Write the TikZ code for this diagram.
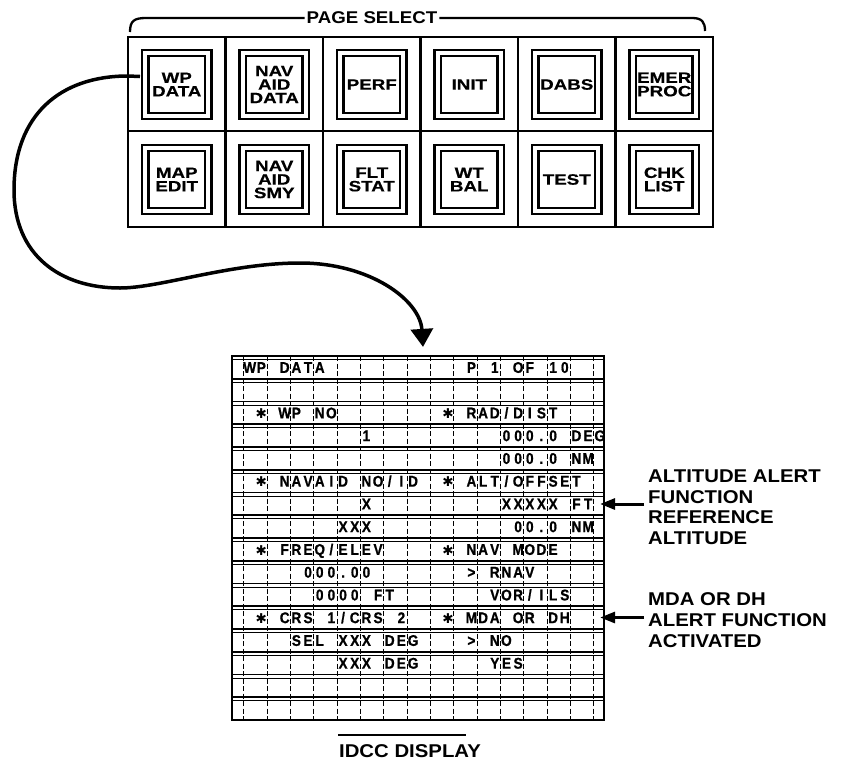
\documentclass[tikz,border=0pt]{standalone}
\usepackage{fontspec}
\usetikzlibrary{arrows.meta,calc}
\newfontfamily\lblfont{Liberation Sans Bold}[FakeStretch=1.1]
\newfontfamily\btnfont{Liberation Sans Bold}[FakeStretch=1.25,FakeBold=0.4]
\newfontfamily\dspfont{Liberation Sans Bold}[FakeStretch=0.88,FakeBold=0.8]
\newfontfamily\starfont{DejaVu Sans}
\newlength\slotw \setlength\slotw{11.67pt}
\ExplSyntaxOn
\NewDocumentCommand\slots{m}
  {
    \str_map_inline:nn {#1}
      {
        \makebox[\slotw][c]
          {
            \str_if_eq:nnTF {##1}{*}
              { \raisebox{-0.3pt}{\starfont\fontsize{13.5}{14}\selectfont ✱} }
              { ##1 }
          }
      }
  }
\ExplSyntaxOff
\newcommand\drow[4]{\node[dtx] (#1) at ({232+11.67*#3},{356+22.75*(#2-0.5)+5.5}) {\slots{#4}};}
\newcommand\btn[4]{\node[btnst] (#1) at ({128+97.5*(#2+0.5)},{37+95*(#3+0.5)}) {#4};}
\begin{document}
\begin{tikzpicture}[x=1pt,y=-1pt,
  panelbox/.style={draw,line width=2.6pt,inner sep=0pt},
  divider/.style={line width=2.2pt},
  bracket/.style={line width=2.3pt},
  btnst/.style={draw,line width=2.5pt,double,double distance=3.6pt,minimum width=63pt,minimum height=63pt,inner sep=0pt,align=center,font={\btnfont\fontsize{15}{13.5}\selectfont}},
  lbl/.style={inner sep=0pt,align=left,font={\lblfont\fontsize{18.5}{20.75}\selectfont}},
  dispbox/.style={draw,line width=2.2pt,inner sep=0pt},
  hthick/.style={line width=1.9pt},
  hthin/.style={line width=0.6pt},
  vdash/.style={line width=0.8pt,dash pattern=on 5pt off 2.5pt},
  dtx/.style={anchor=base west,inner sep=0pt,font={\dspfont\fontsize{15.5}{16}\selectfont}},
  bigarrow/.style={line width=3.5pt,-{Triangle[width=22pt,length=18pt]}},
  smarrow/.style={line width=3pt,-{Triangle[width=11pt,length=15pt]}}
]
\fill[white] (0,0) rectangle (848,763);
\useasboundingbox (0,0) rectangle (848,763);

% ---------- page select panel ----------
\node[panelbox,minimum width=585pt,minimum height=190pt] (panel) at (420.5,132) {};
\foreach \i in {1,...,5} {\draw[divider] ({128+97.5*\i},37) -- ({128+97.5*\i},227);}
\draw[divider] (128,131) -- (713,131);

\node[lbl,font={\lblfont\fontsize{17}{19}\selectfont},inner sep=2pt] (ps) at (372,18) {PAGE SELECT};
\draw[bracket] (130,32) .. controls (130,21) and (134,18) .. (146,18) -- (ps.west);
\draw[bracket] (ps.east) -- (692,18) .. controls (702,18) and (705,22) .. (705,31);

\btn{b11}{0}{0}{WP\\DATA}
\btn{b12}{1}{0}{NAV\\AID\\DATA}
\btn{b13}{2}{0}{PERF}
\btn{b14}{3}{0}{INIT}
\btn{b15}{4}{0}{DABS}
\btn{b16}{5}{0}{EMER\\PROC}
\btn{b21}{0}{1}{MAP\\EDIT}
\btn{b22}{1}{1}{NAV\\AID\\SMY}
\btn{b23}{2}{1}{FLT\\STAT}
\btn{b24}{3}{1}{WT\\BAL}
\btn{b25}{4}{1}{TEST}
\btn{b26}{5}{1}{CHK\\LIST}

% ---------- IDCC display ----------
\node[dispbox,minimum width=372pt,minimum height=364pt] (disp) at (418,538) {};
\foreach \k in {1,...,15} {\draw[hthick] (232,{356+22.75*\k}) -- (604,{356+22.75*\k});}
\foreach \k in {0,...,15} {\draw[hthin] (232,{359.5+22.75*\k}) -- (604,{359.5+22.75*\k});}
\foreach \k in {0,...,15} {\draw[vdash] ({243.67+23.34*\k},356) -- ({243.67+23.34*\k},720);}

\drow{t1a}{1}{1}{WP DATA}
\drow{t1b}{1}{20}{P 1 OF 10}
\drow{t3a}{3}{2}{* WP NO}
\drow{t3b}{3}{18}{* RAD/DIST}
\drow{t4a}{4}{11}{1}
\drow{t4b}{4}{23}{000.0 DEG}
\drow{t5b}{5}{23}{000.0 NM}
\drow{t6a}{6}{2}{* NAVAID NO/ID}
\drow{t6b}{6}{18}{* ALT/OFFSET}
\drow{t7a}{7}{11}{X}
\drow{t7b}{7}{23}{XXXXX FT}
\drow{t8a}{8}{9}{XXX}
\drow{t8b}{8}{24}{00.0 NM}
\drow{t9a}{9}{2}{* FREQ/ELEV}
\drow{t9b}{9}{18}{* NAV MODE}
\drow{t10a}{10}{6}{000.00}
\drow{t10b}{10}{20}{> RNAV}
\drow{t11a}{11}{7}{0000 FT}
\drow{t11b}{11}{22}{VOR/ILS}
\drow{t12a}{12}{2}{* CRS 1/CRS 2}
\drow{t12b}{12}{18}{* MDA OR DH}
\drow{t13a}{13}{5}{SEL XXX DEG}
\drow{t13b}{13}{20}{> NO}
\drow{t14a}{14}{9}{XXX DEG}
\drow{t14b}{14}{22}{YES}

\node[lbl,font={\lblfont\fontsize{18.5}{20}\selectfont}] (idcc) at (410,751) {IDCC DISPLAY};
\draw[line width=1.5pt] (338,735) -- (466,735);

% ---------- connector from WP DATA key to display ----------
\draw[bigarrow] ([xshift=-4pt,yshift=8pt]b11.west) -- (128,76)
  .. controls (60,76) and (14,115) .. (14,190)
  .. controls (14,255) and (60,288) .. (120,288)
  .. controls (160,288) and (230,263) .. (300,263)
  .. controls (370,263) and (420,300) .. ([xshift=5pt,yshift=8pt]disp.north);

% ---------- annotations ----------
\node[lbl,anchor=north west] (lab1) at (648,469.5) {ALTITUDE ALERT\\FUNCTION\\REFERENCE\\ALTITUDE};
\node[lbl,anchor=north west] (lab2) at (648,592.5) {MDA OR DH\\ALERT FUNCTION\\ACTIVATED};
\coordinate (ar1) at (644,504);
\coordinate (ar2) at (644,617.5);
\draw[smarrow,shorten >=-5pt] (ar1) -- (disp.east |- ar1);
\draw[smarrow,shorten >=-5pt] (ar2) -- (disp.east |- ar2);
\end{tikzpicture}
\end{document}
